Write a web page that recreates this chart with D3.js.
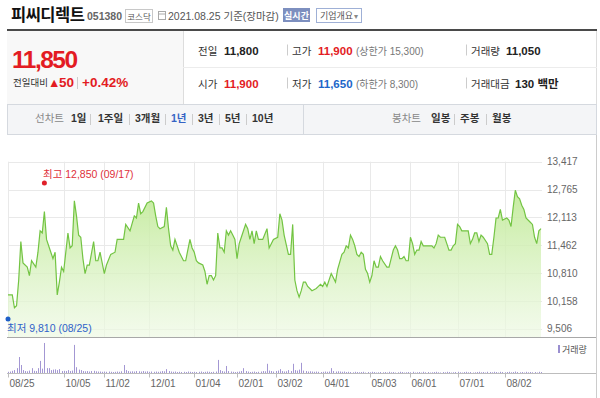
<!DOCTYPE html>
<html>
<head>
<meta charset="utf-8">
<script src="https://cdn.jsdelivr.net/npm/d3@7"></script>
<style>
  html,body{margin:0;padding:0;background:#fff}
  svg{display:block}
  text{font-family:"Liberation Sans","Noto Sans CJK KR",sans-serif}
</style>
</head>
<body>
<svg id="chart" width="600" height="398"></svg>
<script>
// trading-day index (0 = 2020-08-25 ... 249 = 2021-08-25) and close price
const priceIdx = [0,2,3,4,5,6,7,9,10,11,13,14,15,16,17,18,20,21,22,23,24,25,26,28,29,30,31,32,33,34,35,36,37,38,40,41,42,43,45,46,48,50,51,52,54,55,57,59,60,61,62,63,65,67,68,69,70,71,73,74,75,76,77,78,79,80,82,83,85,86,87,88,89,91,92,93,94,95,96,97,98,99,100,101,102,103,104,105,106,107,108,109,111,112,113,114,115,116,117,118,119,121,122,123,124,126,127,128,129,131,132,133,134,135,136,137,138,139,140,141,142,144,145,146,147,148,149,151,153,154,156,157,158,159,160,161,162,163,164,165,166,167,168,169,170,171,172,173,174,175,177,178,179,180,181,182,183,184,185,186,187,188,189,190,191,192,193,194,195,197,198,199,200,201,202,204,205,206,207,208,209,210,211,212,214,215,216,217,218,219,220,221,222,224,225,226,227,228,229,230,231,233,234,235,236,237,238,239,240,241,242,244,245,246,247,248,249];
const priceVal = [10300,10300,10000,10050,10650,11550,11050,10950,10750,11100,10950,11300,11800,11750,12250,11600,11300,11150,11300,10300,10600,10950,10850,11750,11400,11450,12500,12150,11700,11650,11150,10800,11000,11000,11550,11100,11100,11300,10800,11000,11250,11300,11600,11600,11600,11950,11800,12150,12100,12450,12200,12250,12450,12500,12450,12150,11900,11850,11900,12350,11850,11450,11350,11600,11450,11300,11100,11100,11600,11400,11300,11100,11050,11000,10850,10550,10750,10750,10650,10750,11750,11400,11400,11300,11800,11700,11800,11700,11600,11150,11500,11650,11950,11850,11600,11800,11500,11800,11600,11600,11600,11850,11400,11500,11600,11650,12200,12050,11700,11250,11250,11950,10650,10400,10250,10400,10600,10600,10500,10450,10400,10450,10500,10550,10500,10600,10500,10800,10600,10900,11250,11300,11450,11400,11700,11600,11450,11250,11200,11300,11250,10900,10800,10600,10750,11100,10950,10950,11200,11100,10950,10950,11150,11350,11450,11350,11150,11150,11200,11100,11100,11650,11500,11250,11350,11350,11550,11450,11450,11450,11450,11400,11500,11700,11650,11650,11500,11350,11350,11450,11500,11950,11900,11800,11800,11800,11500,11600,11750,11750,11550,11700,11650,11500,11250,11250,11650,12100,12100,12300,12050,12100,12050,11900,12350,12750,12600,12550,12400,12300,12100,12000,11950,11650,11500,11800,11850];

// daily volume (thousand shares), one per trading day
const volume = [
  25,30,45,60,100,330,165,60,40,35,50,100,45,40,100,250,90,620,100,100,60,70,75,60,80,
  40,45,40,60,40,50,580,120,70,60,40,35,40,30,40,45,35,30,30,25,30,25,30,25,20,
  25,30,25,35,165,60,40,30,35,30,40,35,30,40,30,35,25,30,25,30,25,30,40,35,80,
  40,30,25,30,20,25,20,25,20,30,25,20,25,20,25,30,20,25,30,25,20,25,30,270,60,
  40,30,145,40,30,25,20,25,30,40,100,40,30,20,25,30,20,25,30,40,35,190,50,40,30,
  40,50,80,40,30,35,60,40,190,60,50,70,210,50,40,30,35,30,25,30,25,20,25,30,25,
  30,100,40,30,35,30,25,30,20,25,20,15,25,20,15,20,25,10,20,15,25,20,10,15,20,
  15,20,10,25,15,20,10,15,25,20,10,15,20,15,25,10,15,20,10,25,15,20,10,15,20,
  25,15,10,20,15,25,20,10,15,20,25,15,10,20,25,15,20,10,15,20,25,15,20,10,25,
  20,15,25,20,10,25,20,15,20,25,15,20,30,20,15,20,10,25,15,20,15,20,10,25,20
];

const yTicks = [9506, 10158, 10810, 11462, 12113, 12765, 13417];
const xTickIdx = [0, 26, 45, 66, 87, 107, 125, 147, 169, 188, 210, 232];
const xTickLabels = ['08/25','10/05','11/02','12/01','01/04','02/01','03/02','04/01','05/03','06/01','07/01','08/02'];

const high = { idx: 17, value: 12850, label: '최고 12,850 (09/17)' };
const low = { idx: 0, value: 9810, label: '최저 9,810 (08/25)' };

const RED = '#e31b23', BLUE = '#1d66c9';
const svg = d3.select('#chart');

function txt(x, y, s, size, color, weight, anchor) {
  return svg.append('text').attr('x', x).attr('y', y).text(s)
    .style('font-size', size + 'px').attr('fill', color || '#333')
    .style('font-weight', weight || 'normal').attr('text-anchor', anchor || 'start');
}
function hline(x1, x2, y, c, w) {
  svg.append('line').attr('x1', x1).attr('x2', x2).attr('y1', y).attr('y2', y)
    .attr('stroke', c).attr('stroke-width', w || 1);
}
function vline(x, y1, y2, c) {
  svg.append('line').attr('x1', x).attr('x2', x).attr('y1', y1).attr('y2', y2).attr('stroke', c);
}

/* ── header ── */
txt(11, 21, '피씨디렉트', 16.5, '#111', 'bold').style('letter-spacing', '-0.5px');
txt(87, 20, '051380', 10.5, '#666', 'bold');
svg.append('rect').attr('x', 125.5).attr('y', 9.5).attr('width', 27).attr('height', 13)
  .attr('fill', '#fff').attr('stroke', '#c8c8c8');
txt(139, 19.5, '코스닥', 8.5, '#555', 'normal', 'middle');
// calendar icon
svg.append('rect').attr('x', 158.5).attr('y', 11.5).attr('width', 7).attr('height', 8)
  .attr('fill', 'none').attr('stroke', '#aaa');
hline(158, 166, 14, '#aaa');
txt(168, 20, '2021.08.25 기준(장마감)', 10.5, '#555');
svg.append('rect').attr('x', 283).attr('y', 8).attr('width', 27).attr('height', 14).attr('fill', '#7d8fbf');
txt(296.5, 18.5, '실시간', 9, '#fff', 'bold', 'middle');
svg.append('rect').attr('x', 316.5).attr('y', 8.5).attr('width', 45).attr('height', 14)
  .attr('fill', '#fff').attr('stroke', '#9fb0d6');
txt(320, 19, '기업개요', 9, '#555');
txt(354, 18.5, '▾', 8, '#888');

hline(7, 597, 30, '#4a4a4a', 2);
svg.append('rect').attr('x', 7).attr('y', 31).attr('width', 176).attr('height', 73).attr('fill', '#f8f8f8');
vline(183.5, 31, 104, '#ddd');
vline(596.5, 31, 104, '#ddd');
hline(183, 597, 67.5, '#ececec');

txt(12, 68, '11,850', 24.5, RED, 'bold').style('letter-spacing', '-1.5px');
txt(13, 86, '전일대비', 9.5, '#333');
txt(48, 86.5, '▲', 12.5, RED);
txt(59, 87, '50', 13.5, RED, 'bold');
vline(77.5, 77, 89, '#ccc');
txt(82, 87, '+0.42%', 13.5, RED, 'bold');

const rows = [
  [['전일', '11,800', '#222', ''], ['고가', '11,900', RED, '(상한가 15,300)'], ['거래량', '11,050', '#222', '']],
  [['시가', '11,900', RED, ''], ['저가', '11,650', BLUE, '(하한가 8,300)'], ['거래대금', '130 백만', '#222', '']],
];
const colX = [198, 292, 471], valX = [224, 318, 506];
rows.forEach((r, ri) => {
  const by = ri === 0 ? 54.5 : 87.5;
  r.forEach((c, ci) => {
    txt(colX[ci], by, c[0], 10.5, '#333');
    const vx = ci === 2 && ri === 1 ? 515 : valX[ci];
    txt(vx, by, c[1], 11.5, c[2], 'bold');
    if (c[3]) txt(356, by, c[3], 10, '#777');
  });
  vline(287.5, by - 10, by + 1, '#ccc');
  vline(466.5, by - 10, by + 1, '#ccc');
});

/* ── tab bar ── */
svg.append('rect').attr('x', 7.5).attr('y', 104.5).attr('width', 589).attr('height', 30)
  .attr('fill', '#f4f5f7').attr('stroke', '#d5d9df');
vline(303.5, 105, 134, '#d5d9df');
const tabs = [
  ['선차트', 35, '#888', 'normal'], ['1일', 71], ['1주일', 98], ['3개월', 135], ['1년', 171, '#3563c4'],
  ['3년', 198], ['5년', 225], ['10년', 252],
  ['봉차트', 392, '#888', 'normal'], ['일봉', 431], ['주봉', 460], ['월봉', 492],
];
tabs.forEach(t => txt(t[1], 122, t[0], 10.5, t[2] || '#333', t[3] || 'bold'));
[90, 129, 165, 192, 219, 246, 454, 486].forEach(x => vline(x + 0.5, 114, 125, '#ccc'));

/* ── price chart ── */
const x = d3.scaleLinear().domain([0, 249]).range([8, 541]);
const y = d3.scaleLinear().domain([9506, 13417]).range([328.9, 161.7]);
const plotBottom = 337.5;

vline(596.5, 135, 398, '#ccc');

const grid = svg.append('g');
yTicks.forEach(v => {
  grid.append('line').attr('x1', 8).attr('x2', 542).attr('y1', Math.round(y(v)) + 0.5)
    .attr('y2', Math.round(y(v)) + 0.5).attr('stroke', '#e9e9e9');
});
xTickIdx.forEach(i => {
  grid.append('line').attr('x1', Math.round(x(i)) + 0.5).attr('x2', Math.round(x(i)) + 0.5)
    .attr('y1', y(13417)).attr('y2', plotBottom).attr('stroke', '#e9e9e9');
});

const defs = svg.append('defs');
const grad = defs.append('linearGradient').attr('id', 'g1').attr('gradientUnits', 'userSpaceOnUse')
  .attr('x1', 0).attr('x2', 0).attr('y1', 190).attr('y2', plotBottom);
grad.append('stop').attr('offset', 0).attr('stop-color', '#bfe995').attr('stop-opacity', 0.9);
grad.append('stop').attr('offset', 1).attr('stop-color', '#eef9e4').attr('stop-opacity', 0.7);

const pts = priceIdx.map((d, i) => ({ i: d, v: priceVal[i] }));
svg.append('path').datum(pts)
  .attr('d', d3.area().x(d => x(d.i)).y0(plotBottom).y1(d => y(d.v)))
  .attr('fill', 'url(#g1)');
svg.append('path').datum(pts)
  .attr('d', d3.line().x(d => x(d.i)).y(d => y(d.v)))
  .attr('fill', 'none').attr('stroke', '#73c443').attr('stroke-width', 1.2);

yTicks.forEach(v => {
  txt(547, y(v) + 3.5, d3.format(',')(v), 10, '#666');
});

// high / low markers
svg.append('circle').attr('cx', x(high.idx)).attr('cy', y(high.value) - 3).attr('r', 2.5).attr('fill', '#e0202a');
txt(43, 178, high.label, 10.5, '#e0303a');
svg.append('circle').attr('cx', x(low.idx)).attr('cy', y(low.value) + 3).attr('r', 2.5).attr('fill', '#1f5fc8');
txt(7, 332, low.label, 10.5, '#2f62c9');

hline(7, 596, plotBottom, '#a8a8a8');

/* ── volume ── */
const yv = d3.scaleLinear().domain([0, 640]).range([373, 342]);
svg.append('g').selectAll('rect').data(volume).enter().append('rect')
  .attr('x', (d, i) => Math.round(x(i)))
  .attr('y', d => yv(d))
  .attr('width', 1)
  .attr('height', d => 373 - yv(d))
  .attr('fill', '#a397d3');

hline(7, 596, 373.5, '#bdbdbd');
xTickIdx.forEach((i, k) => {
  const tx = Math.round(x(i)) + 0.5;
  vline(tx, 373.5, 377.5, '#bdbdbd');
  txt(tx + 1, 387, xTickLabels[k], 10, '#666');
});

svg.append('rect').attr('x', 558).attr('y', 345).attr('width', 2).attr('height', 8).attr('fill', '#9a8fd0');
txt(562, 353, '거래량', 9, '#555');
</script>
</body>
</html>
